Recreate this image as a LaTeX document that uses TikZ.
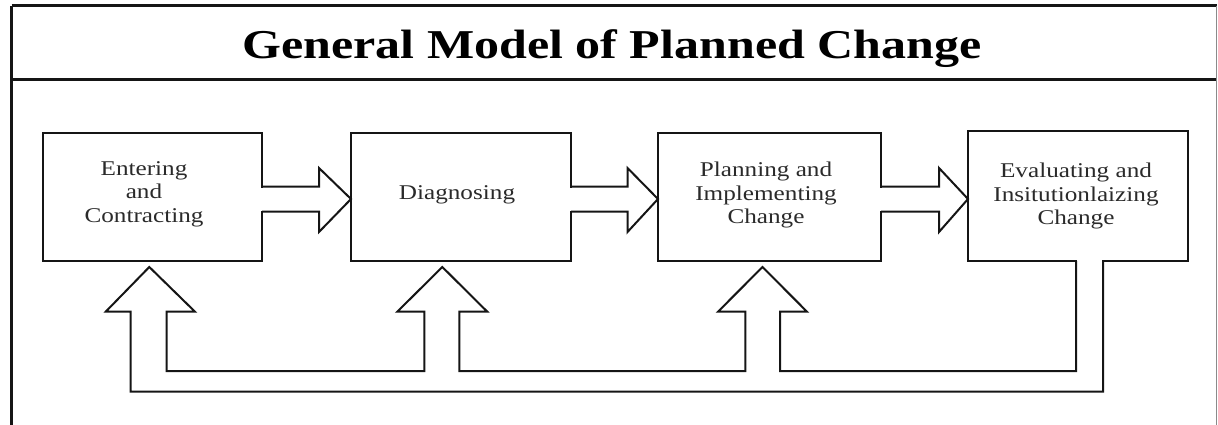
\documentclass[tikz,border=0pt]{standalone}
\usepackage{fontspec}
\setmainfont{Liberation Serif}[FakeStretch=1.2]
\newfontfamily\titlefont{Liberation Serif}[FakeStretch=1.22]
\usetikzlibrary{calc}
\definecolor{ink}{HTML}{151515}
\definecolor{txt}{HTML}{2A2A2A}
\definecolor{rim}{HTML}{8A8A8A}
\begin{document}
\begin{tikzpicture}[x=1pt,y=-1pt,
  box/.style={draw=ink, line width=2pt, inner sep=0pt, outer sep=0pt, minimum height=128pt},
  conn/.style={draw=ink, line width=2pt, line join=miter},
  erase/.style={fill=white, draw=none},
  lbl/.style={text=txt, align=center, inner sep=0pt, font=\fontsize{21}{23.5}\selectfont},
  frame/.style={draw=ink, line width=2.6pt}]
\useasboundingbox (0,0) rectangle (1218,425);
% frame and title panel
\coordinate (ftl) at (11.5,5.7);
\coordinate (ftr) at (1216.5,5.7);
\coordinate (fdl) at (11.5,79.3);
\coordinate (fdr) at (1216.5,79.3);
\coordinate (fbl) at (11.5,425);
\coordinate (fbr) at (1216.5,425);
\draw[frame] (ftl) -- (ftr);
\draw[frame] (fdl) -- (fdr);
\draw[draw=ink, line width=3pt] (ftl) -- (fbl);
\draw[draw=rim, line width=1.2pt] (ftr) -- (fbr);
\node[anchor=base, inner sep=0pt, font=\titlefont\bfseries\fontsize{41}{45}\selectfont] (title) at (612,59) {General Model of Planned Change};
% boxes
\node[box, minimum width=219pt] (b1) at (152.5,197) {};
\node[box, minimum width=220pt] (b2) at (461,197) {};
\node[box, minimum width=223pt] (b3) at (769.5,197) {};
\node[box, minimum width=220pt, minimum height=130pt] (b4) at (1078,196) {};
% labels
\node[lbl] (t1) at (144,194) {Entering\\and\\Contracting};
\node[lbl, anchor=base] (t2) at (457,199) {Diagnosing};
\node[lbl] (t3) at (766,195) {Planning and\\Implementing\\Change};
\node[lbl] (t4) at (1076,196) {Evaluating and\\Insitutionlaizing\\Change};
% forward block arrows
\fill[erase] ($(b1.east |- 0,187.7)+(-1.6,0)$) rectangle ($(b1.east |- 0,210.5)+(1.6,0)$);
\draw[conn] (b1.east |- 0,186.7) -- (319,186.7) -- (319,168) -- (b2.west |- 0,199) -- (319,232) -- (319,211.5) -- (b1.east |- 0,211.5);
\fill[erase] ($(b2.east |- 0,187.7)+(-1.6,0)$) rectangle ($(b2.east |- 0,210.5)+(1.6,0)$);
\draw[conn] (b2.east |- 0,186.7) -- (627.5,186.7) -- (627.5,168) -- (b3.west |- 0,199) -- (627.5,232) -- (627.5,211.5) -- (b2.east |- 0,211.5);
\fill[erase] ($(b3.east |- 0,187.7)+(-1.6,0)$) rectangle ($(b3.east |- 0,210.5)+(1.6,0)$);
\draw[conn] (b3.east |- 0,186.7) -- (939,186.7) -- (939,168) -- (b4.west |- 0,199) -- (939,232) -- (939,211.5) -- (b3.east |- 0,211.5);
% feedback loop with up arrows
\coordinate (u1) at ($(b1.south -| 149.3,0)+(0,6)$);
\coordinate (u2) at ($(b2.south -| 442.3,0)+(0,6)$);
\coordinate (u3) at ($(b3.south -| 762.5,0)+(0,6)$);
\fill[erase] ($(b4.south -| 1077,0)+(0,-1.6)$) rectangle ($(b4.south -| 1102,0)+(0,1.6)$);
\draw[conn] (b4.south -| 1076,0) -- (1076,371) -- (780,371) -- (780,311.7) -- (807,311.7) -- (u3) -- (718,311.7) -- (745.3,311.7) -- (745.3,371)
  -- (459.3,371) -- (459.3,311.7) -- (487.3,311.7) -- (u2) -- (397.3,311.7) -- (424.3,311.7) -- (424.3,371)
  -- (166.7,371) -- (166.7,311.7) -- (195,311.7) -- (u1) -- (105.7,311.7) -- (130.7,311.7) -- (130.7,391.7)
  -- (1103,391.7) -- (b4.south -| 1103,0);
\end{tikzpicture}
\end{document}
